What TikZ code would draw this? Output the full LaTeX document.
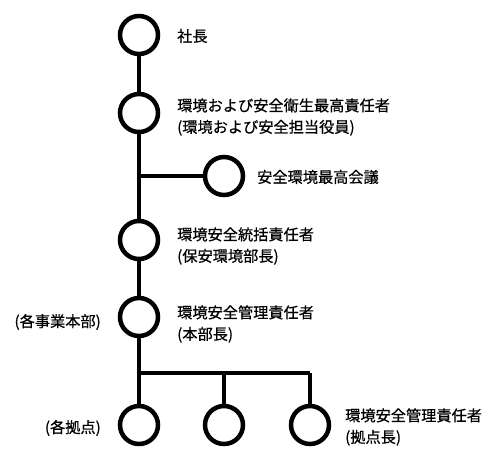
\documentclass[tikz,border=0pt]{standalone}
\usepackage{fontspec}
\setmainfont{Noto Sans CJK JP}[FakeBold=0.6]
\begin{document}
\begin{tikzpicture}[x=1pt,y=-1pt,
  org/.style={circle,draw=black,line width=4.5pt,minimum size=38pt,inner sep=0pt},
  conn/.style={line width=4pt},
  lbl/.style={inner sep=0pt,align=left,font=\fontsize{15.2pt}{21.5pt}\selectfont}]
\useasboundingbox (0,0) rectangle (500,472);
\node[org] (c1) at (139,35) {};
\node[org] (c2) at (139,113) {};
\node[org] (c3) at (224,176) {};
\node[org] (c4) at (139,240) {};
\node[org] (c5) at (139,317) {};
\node[org] (b1) at (139,425) {};
\node[org] (b2) at (224,425) {};
\node[org] (b3) at (310,425) {};
\coordinate (j1) at (139,176);
\coordinate (j2) at (139,373);
\coordinate (j3) at (224,373);
\coordinate (j4) at (310,373);
\draw[conn] (c1) -- (c2);
\draw[conn] (c2) -- (c4);
\draw[conn] (j1) -- (c3);
\draw[conn] (c4) -- (c5);
\draw[conn] (c5) -- (b1);
\draw[conn] (j2) -- (j4);
\draw[conn] (j3) -- (b2);
\draw[conn] (j4) -- (b3);
\node[lbl,anchor=west] (t1) at (177,36) {社長};
\node[lbl,anchor=west] (t2) at (177,117) {環境および安全衛生最高責任者\\(環境および安全担当役員)};
\node[lbl,anchor=west] (t3) at (257,177) {安全環境最高会議};
\node[lbl,anchor=west] (t4) at (177,246) {環境安全統括責任者\\(保安環境部長)};
\node[lbl,anchor=west] (t5) at (177,324) {環境安全管理責任者\\(本部長)};
\node[lbl,anchor=east] (t6) at (101,322) {(各事業本部)};
\node[lbl,anchor=east] (t7) at (101,428) {(各拠点)};
\node[lbl,anchor=west] (t8) at (345,427) {環境安全管理責任者\\(拠点長)};
\end{tikzpicture}
\end{document}
